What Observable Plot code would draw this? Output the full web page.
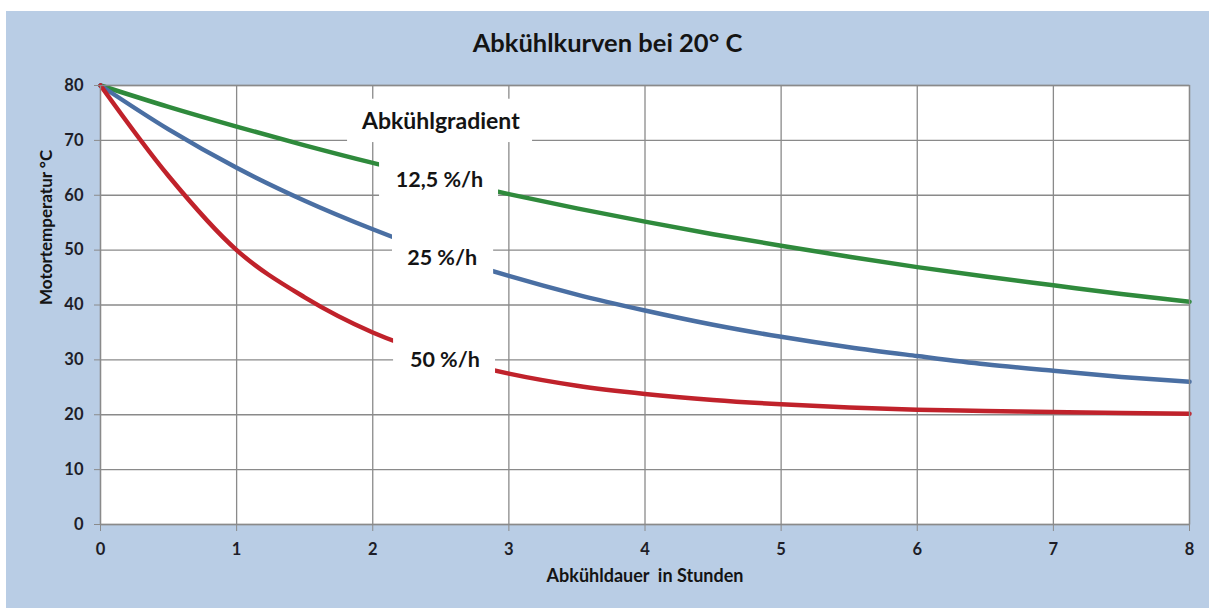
<!DOCTYPE html>
<html><head><meta charset="utf-8">
<script src="https://cdn.jsdelivr.net/npm/d3@7"></script>
<script src="https://cdn.jsdelivr.net/npm/@observablehq/plot@0.6"></script>
<style>
html,body{margin:0;padding:0;background:#fff;overflow:hidden;width:1209px;height:608px;}
#wrap{position:absolute;left:6px;top:11px;width:1203px;height:597px;background:#b9cde5;}
#title{position:absolute;left:0;width:100%;top:16px;text-align:center;font-family:Lato,sans-serif;font-weight:bold;font-size:25.5px;line-height:normal;color:#141414;}
#chart{position:absolute;left:0;top:0;}
</style></head><body>
<div id="wrap"><div id="chart"></div><div id="title">Abkühlkurven bei 20° C</div></div>
<script>
// Data
const hours = [0,0.5,1,1.5,2,2.5,3,3.5,4,4.5,5,5.5,6,6.5,7,7.5,8];
const green125 = [80,76.1,72.5,69.1,65.9,63.0,60.2,57.6,55.2,52.9,50.8,48.8,46.9,45.2,43.6,42.0,40.6];
const blue25   = [80,72.0,65.0,59.0,53.8,49.2,45.3,41.9,39.0,36.4,34.2,32.3,30.7,29.2,28.0,26.9,26.0];
const red50    = [80,63.5,50.0,41.4,35.0,30.6,27.5,25.3,23.8,22.7,21.9,21.3,20.9,20.7,20.5,20.3,20.2];
const seriesNames = ["12,5 %/h","25 %/h","50 %/h"];
const seriesValues = [green125, blue25, red50];
const seriesColors = ["#2f8a3c","#4a6fa3","#c0222b"];
const xTicks = [0,1,2,3,4,5,6,7,8];
const yTicks = [0,10,20,30,40,50,60,70,80];

// annotation labels (data units)
const labelTexts = ["Abkühlgradient","12,5 %/h","25 %/h","50 %/h"];
const labelX = [2.50,2.49,2.51,2.53];
const labelY = [73.5,62.8,48.6,30.0];
const labelSize = [23,21.5,21.5,21.5];
const boxX1 = [1.815,2.05,2.145,2.153];
const boxX2 = [3.174,2.924,2.888,2.902];
const boxY1 = [69.6,58.1,44.8,26.6];
const boxY2 = [77.5,66.7,53.2,34.3];

const rows = [];
seriesNames.forEach((name,i)=>hours.forEach((h,j)=>rows.push({series:name,h,t:seriesValues[i][j]})));
const labels = labelTexts.map((t,i)=>({t,x:labelX[i],y:labelY[i],s:labelSize[i]}));
const boxes = boxX1.map((v,i)=>({x1:v,x2:boxX2[i],y1:boxY1[i],y2:boxY2[i]}));

const grid = "#8a8a8a";
const chart = Plot.plot({
  width:1203, height:597,
  marginLeft:94, marginRight:20, marginTop:74, marginBottom:84,
  style:{background:"transparent", fontFamily:"Lato, sans-serif", fontWeight:"bold", fontSize:"16.5px", color:"#1e1e28"},
  x:{domain:[0,8]},
  y:{domain:[0,80]},
  color:{domain:seriesNames, range:seriesColors},
  marks:[
    Plot.frame({fill:"white", stroke:null}),
    Plot.gridX(xTicks,{stroke:grid, strokeOpacity:1, strokeWidth:1.3}),
    Plot.gridY(yTicks,{stroke:grid, strokeOpacity:1, strokeWidth:1.3}),
    Plot.line(rows,{x:"h", y:"t", stroke:"series", z:"series", strokeWidth:4.5, curve:"monotone-x"}),
    Plot.rect(boxes,{x1:"x1",x2:"x2",y1:"y1",y2:"y2",fill:"white"}),
    Plot.text(labels,{x:"x", y:"y", text:"t", fontSize:d=>d.s, fill:"#141414", fontWeight:"bold"}),
    Plot.frame({stroke:grid, strokeWidth:1.3}),
    Plot.axisX(xTicks,{tickSize:7, tickPadding:12, tickFormat:"d", stroke:grid, fill:"#1e1e28", label:null}),
    Plot.axisY(yTicks,{tickSize:6, tickPadding:11, tickFormat:"d", stroke:grid, fill:"#1e1e28", label:null}),
    Plot.text(["Motortemperatur °C"],{frameAnchor:"left", dx:-54, rotate:-90, fontSize:17, fill:"#141414"}),
    Plot.text(["Abkühldauer  in Stunden"],{frameAnchor:"bottom", dy:57, fontSize:18, fill:"#141414"})
  ]
});
document.getElementById("chart").appendChild(chart);
</script>
</body></html>
